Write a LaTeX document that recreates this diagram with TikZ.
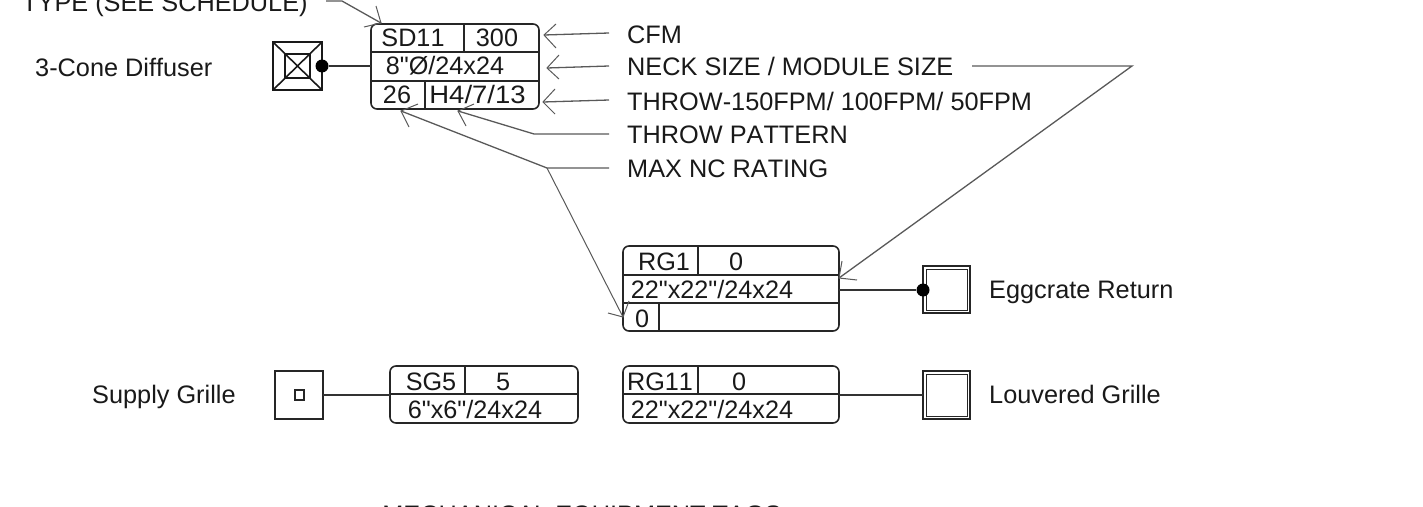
\documentclass[tikz,border=0pt]{standalone}
\usepackage{fontspec}
\newfontfamily\tagfont[Kerning=Off]{Liberation Sans}
\usetikzlibrary{arrows.meta}
\tikzset{
  x=1pt,y=-1pt,
  lbl/.style={anchor=base west,inner sep=0pt,font=\tagfont\fontsize{25.3}{25.3}\selectfont,text=black!90},
  cell/.style={anchor=base,inner sep=0pt,font=\tagfont\fontsize{25.2}{25.2}\selectfont,text=black!90},
  box/.style={draw=black!85,line width=1.6pt,rounded corners=6pt},
  div/.style={draw=black!85,line width=1.4pt},
  wire/.style={draw=black!80,line width=1.4pt},
  lead/.style={draw=black!65,line width=1.3pt},
  tip/.style={draw=black!65,line width=1pt},
  dot/.style={circle,fill=black,inner sep=0pt,minimum size=13pt},
  sq/.style={draw=black!85,line width=1.5pt,inner sep=0pt},
}
\begin{document}
\begin{tikzpicture}
\useasboundingbox (0,0) rectangle (1423,506);
\clip (0,0) rectangle (1423,506);
% labels
\node[lbl] (ttype) at (22,12) {TYPE (SEE SCHEDULE)};
\node[lbl] (l3c) at (35,76) {3-Cone Diffuser};
\node[lbl] (lcfm) at (627,43) {CFM};
\node[lbl] (lneck) at (627,75) {NECK SIZE / MODULE SIZE};
\node[lbl] (lthrow) at (627,110) {THROW-150FPM/ 100FPM/ 50FPM};
\node[lbl] (lpat) at (627,143) {THROW PATTERN};
\node[lbl] (lnc) at (627,177) {MAX NC RATING};
\node[lbl] (legg) at (989,298) {Eggcrate Return};
\node[lbl] (lsup) at (92,403) {Supply Grille};
\node[lbl] (llou) at (989,403) {Louvered Grille};
\node[lbl,anchor=base] (ltitle) at (582,523.5) {MECHANICAL EQUIPMENT TAGS};
% SD11 tag
\draw[box] (371,24) rectangle (539,109);
\draw[div] (371,52) -- (539,52) (371,81) -- (539,81) (464,24) -- (464,52) (425,81) -- (425,109);
\node[cell] (a1) at (413,46) {SD11};
\node[cell] (a2) at (497,46) {300};
\node[cell] (a3) at (445,74) {8"Ø/24x24};
\node[cell] (a4) at (397,103) {26};
\node[cell,xscale=1.09] (a5) at (477.5,103) {H4/7/13};
% RG1 tag
\draw[box] (623,246) rectangle (839,331);
\draw[div] (623,275) -- (839,275) (623,303) -- (839,303) (698,246) -- (698,275) (659,303) -- (659,331);
\node[cell] (b1) at (664,270) {RG1};
\node[cell] (b2) at (736,270) {0};
\node[cell] (b3) at (712,298) {22"x22"/24x24};
\node[cell] (b4) at (642,327) {0};
% SG5 tag
\draw[box] (390,366) rectangle (578,423);
\draw[div] (390,394) -- (578,394) (465,366) -- (465,394);
\node[cell] (c1) at (431,390) {SG5};
\node[cell] (c2) at (503,390) {5};
\node[cell] (c3) at (475,418) {6"x6"/24x24};
% RG11 tag
\draw[box] (623,366) rectangle (839,423);
\draw[div] (623,394) -- (839,394) (698,366) -- (698,394);
\node[cell] (d1) at (660,390) {RG11};
\node[cell] (d2) at (739,390) {0};
\node[cell] (d3) at (712,418) {22"x22"/24x24};
% 3-cone symbol
\draw[line width=2pt,draw=black!90] (273,42) rectangle (322,90);
\draw[line width=1.6pt,draw=black!90] (285,54) rectangle (310,78);
\draw[line width=1.6pt,draw=black!90] (273,42) -- (322,90) (322,42) -- (273,90);
\node[dot] (d3c) at (322,66) {};
\coordinate (a) at (371,66);
\draw[wire] (d3c) -- (a);
% eggcrate
\draw[sq] (923,266) rectangle (970,313);
\draw[sq,line width=1pt] (926,269) rectangle (967,310);
\node[dot] (degg) at (923,290) {};
\coordinate (b) at (839,290);
\draw[wire] (b) -- (degg);
% louvered
\draw[sq] (923,371) rectangle (970,419);
\draw[sq,line width=1pt] (926,374) rectangle (967,416);
\coordinate (d) at (839,395);
\coordinate (dd) at (923,395);
\draw[wire] (d) -- (dd);
% supply
\draw[sq] (275,371) rectangle (323,419);
\draw[sq] (295,390) rectangle (304,400);
\coordinate (c) at (323,395);
\coordinate (cc) at (390,395);
\draw[wire] (c) -- (cc);
% leaders
\coordinate (t0) at (326,1);
\coordinate (t1) at (342,1);
\coordinate (t2) at (381,23);
\draw[lead] (t0) -- (t1) -- (t2);
\draw[tip] (376,6) -- (t2) -- (364,27);
\coordinate (f1) at (609,33);
\coordinate (f2) at (544,35);
\draw[lead] (f1) -- (f2);
\draw[tip] (556,24) -- (f2) -- (556,48);
\coordinate (g1) at (609,66);
\coordinate (g2) at (547,68);
\draw[lead] (g1) -- (g2);
\draw[tip] (559,55) -- (g2) -- (559,79);
\coordinate (h1) at (609,100);
\coordinate (h2) at (543,102);
\draw[lead] (h1) -- (h2);
\draw[tip] (555,89) -- (h2) -- (555,114);
\coordinate (p1) at (609,134);
\coordinate (p2) at (534,134);
\coordinate (p3) at (458,111);
\draw[lead] (p1) -- (p2) -- (p3);
\draw[tip] (474,104) -- (p3) -- (466,126);
\coordinate (n1) at (609,168);
\coordinate (n2) at (547,168);
\coordinate (n3) at (401,111);
\coordinate (n4) at (623,317);
\draw[lead] (n1) -- (n2) -- (n3);
\draw[tip] (418,104) -- (n3) -- (409,127);
\draw[tip] (n2) -- (n4);
\draw[tip] (629,301) -- (n4) -- (608,313);
\coordinate (k1) at (972,66);
\coordinate (k2) at (1132,66);
\coordinate (k3) at (839,278);
\draw[lead] (k1) -- (k2) -- (k3);
\draw[tip] (842,261) -- (k3) -- (857,280);
\end{tikzpicture}
\end{document}
